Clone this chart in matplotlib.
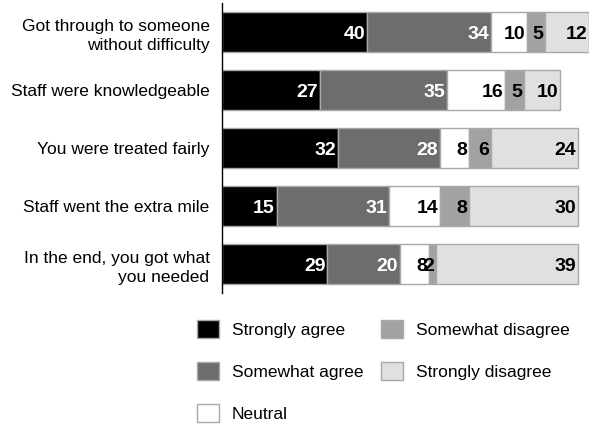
import numpy as np
import matplotlib as mpl
mpl.use('agg')
from matplotlib import pyplot as plt

categories = ['Got through to someone\nwithout difficulty',
              'Staff were knowledgeable',
              'You were treated fairly',
              'Staff went the extra mile',
              'In the end, you got what\nyou needed']
series_names = ['Strongly agree', 'Somewhat agree', 'Neutral',
                'Somewhat disagree', 'Strongly disagree']
strongly_agree = [40, 27, 32, 15, 29]
somewhat_agree = [34, 35, 28, 31, 20]
neutral = [10, 16, 8, 14, 8]
somewhat_disagree = [5, 5, 6, 8, 2]
strongly_disagree = [12, 10, 24, 30, 39]

colors = ['#000000', '#6d6d6d', '#ffffff', '#a2a2a2', '#e0e0e0']
text_colors = ['white', 'white', 'black', 'black', 'black']

plt.rcParams['font.family'] = ['Liberation Sans', 'DejaVu Sans']

fig = plt.figure(figsize=(5.92, 4.24), dpi=100)
ax = fig.add_axes([222 / 592, 1 - 293 / 424, 367 / 592, 290 / 424])

y = np.arange(len(categories))
left = np.zeros(len(categories))
all_series = [strongly_agree, somewhat_agree, neutral, somewhat_disagree, strongly_disagree]
for vals, name, col, tcol in zip(all_series, series_names, colors, text_colors):
    vals = np.array(vals, dtype=float)
    ax.barh(y, vals, left=left, height=0.7, color=col, edgecolor='#a8a8a8',
            linewidth=1, label=name)
    for yi, l, v in zip(y, left, vals):
        ax.text(l + v - 0.5, yi + 0.04, '%d' % v, ha='right', va='center',
                color=tcol, fontsize=14, fontweight='bold')
    left += vals

ax.set_xlim(0, 101)
ax.set_ylim(4.5, -0.5)
ax.set_yticks(y)
ax.set_yticklabels(categories, fontsize=12.5, linespacing=1.4)
ax.tick_params(axis='y', length=0, pad=9)
ax.set_xticks([])
for s in ['top', 'right', 'bottom']:
    ax.spines[s].set_visible(False)
ax.spines['left'].set_color('#000000')
ax.spines['left'].set_linewidth(1)

fig.legend(loc='upper left', bbox_to_anchor=(190 / 592, 1 - 313 / 424), ncol=2,
           frameon=False, fontsize=12.5, handlelength=1.25, handleheight=1.25,
           labelspacing=1.35, columnspacing=1.05, handletextpad=0.75,
           borderaxespad=0)

plt.savefig('out.png', dpi=100)
